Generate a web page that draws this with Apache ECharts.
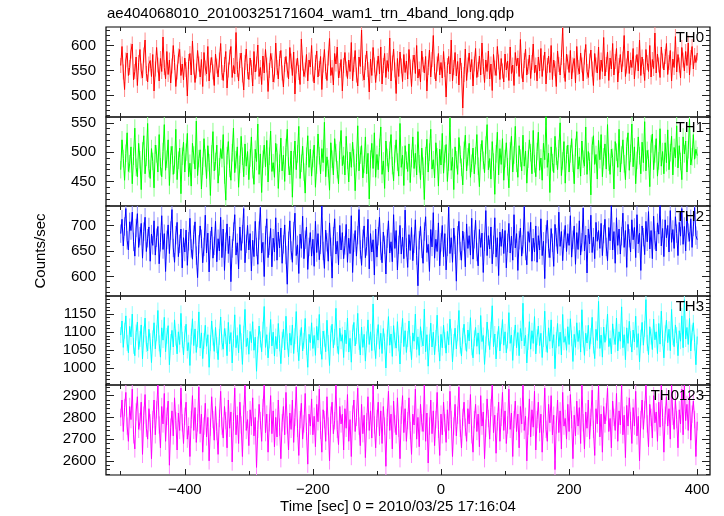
<!DOCTYPE html>
<html><head><meta charset="utf-8">
<script src="https://cdn.jsdelivr.net/npm/echarts@6/dist/echarts.min.js"></script>
<style>html,body{margin:0;padding:0;background:#fff}#c{width:724px;height:516px}</style>
</head><body><div id="c"></div>
<script>
// time grid of the light curve (sec, 0 = 2010/03/25 17:16:04)
const T_START = -500, T_STEP = 2;

const th0 = [
560,598,547,512,571,585,540,556,589,603,531,548,577,520,566,592,549,535,581,611,544,527,563,570,538,
582,509,553,596,561,529,574,548,617,556,533,588,542,571,525,559,600,566,518,547,579,592,540,563,531,
575,552,499,568,584,541,609,557,526,549,590,563,537,572,518,586,555,543,598,529,561,576,547,520,583,
559,537,571,604,546,530,562,588,515,551,577,598,536,560,543,626,552,529,570,585,541,511,566,593,548,
532,575,556,519,588,547,563,601,538,556,522,579,545,592,561,508,550,584,570,527,541,605,556,533,574,
590,545,517,562,578,551,533,596,569,540,587,503,559,575,546,522,613,565,538,551,582,529,571,557,600,
543,525,566,589,537,554,578,512,561,592,548,530,575,614,540,556,521,584,563,597,535,550,572,509,560,
586,553,534,571,548,606,529,562,590,541,519,577,558,631,544,531,566,589,552,507,573,540,596,561,526,
555,579,543,597,523,560,584,536,570,548,615,529,565,593,551,504,574,538,587,559,528,582,546,569,533,
592,557,518,566,581,544,600,535,553,527,589,562,545,578,509,556,591,537,572,620,548,529,563,584,541,
566,535,588,552,497,560,578,543,611,529,556,586,539,568,521,575,550,475,542,593,530,561,585,547,572,
519,563,594,536,552,579,541,605,558,526,571,548,589,533,563,510,582,555,540,598,567,532,574,549,527,
583,551,569,530,597,544,561,520,586,559,575,538,612,549,527,570,593,541,558,581,534,566,603,545,561,
529,577,549,594,538,565,587,523,560,579,546,600,532,571,554,518,589,562,541,576,635,550,528,583,567,
546,590,533,561,574,525,598,556,543,585,561,529,577,602,548,536,569,591,553,520,584,561,545,597,532,
571,548,616,539,562,587,530,575,553,604,541,568,594,527,560,582,547,573,620,538,559,589,544,571,556,
594,533,565,582,549,611,540,577,558,530,592,566,548,600,537,572,554,625,545,583,561,536,597,569,551,
578,604,542,566,590,529,573,556,618,547,582,561,535,596,571,549,588,560,605,541,576,598,553,580,566,
585];

const th1 = [
470,521,489,452,498,533,467,480,509,446,493,541,474,458,515,487,436,502,528,463,491,549,472,455,506,
484,439,512,497,466,530,475,458,501,547,469,488,521,443,495,510,462,478,539,453,486,507,429,493,517,
466,500,532,458,481,442,515,495,471,553,460,489,504,437,476,523,490,455,511,482,426,497,535,468,484,
512,447,475,506,489,530,461,418,494,518,472,452,499,541,465,487,509,440,479,527,493,458,514,476,501,
453,490,526,470,445,505,484,548,462,497,431,488,512,475,520,449,493,536,467,482,457,515,499,438,481,
524,468,495,450,508,539,476,461,502,423,487,519,470,497,544,455,481,510,466,430,493,528,474,505,459,
489,512,440,478,531,494,463,506,482,551,458,492,472,435,516,488,461,523,499,470,446,503,537,477,494,
461,527,486,449,500,474,517,490,434,482,545,468,495,511,456,479,526,463,498,420,488,515,472,533,457,
496,470,508,543,462,485,438,519,491,466,503,530,477,451,497,521,483,459,549,474,495,443,511,486,467,
514,448,489,526,472,498,461,535,480,453,507,476,419,494,522,466,500,539,471,487,456,516,492,442,505,
478,532,464,497,513,450,483,558,469,491,436,509,487,462,525,496,474,444,503,529,468,492,515,457,481,
507,463,494,530,476,441,499,520,486,465,512,547,470,489,454,518,483,428,497,534,461,506,479,523,452,
489,516,475,439,502,527,466,495,544,481,457,511,490,468,529,476,502,447,488,521,499,463,537,480,458,
501,534,469,490,452,515,487,561,474,498,431,509,482,465,527,493,470,506,550,460,485,518,447,496,512,
466,497,523,481,446,508,535,471,492,459,519,488,476,543,462,501,484,427,511,528,479,496,454,520,487,
530,458,492,514,471,547,483,462,505,491,437,518,500,474,539,466,495,521,480,453,510,533,469,498,548,
475,509,446,486,526,494,463,517,482,552,468,503,489,441,514,531,470,497,523,459,485,540,476,501,463,
516,482,538,470,499,527,461,508,490,545,473,511,484,453,526,497,519,466,504,556,478,492,530,488,505,
494];

const th2 = [
684,712,660,698,733,671,652,707,690,726,668,640,695,723,657,679,704,636,688,716,649,675,697,630,683,
661,709,642,676,698,625,667,719,653,684,610,672,701,645,690,731,656,628,681,706,639,664,693,617,676,
648,691,622,669,714,655,634,682,707,641,598,663,699,674,627,658,720,646,685,609,671,697,636,660,708,
629,674,650,716,637,693,612,668,703,645,679,590,655,688,721,642,666,615,697,651,683,733,627,664,700,
652,684,611,671,639,708,658,624,690,735,646,667,600,681,713,637,660,694,619,675,648,715,632,687,656,
695,626,663,701,642,585,670,709,651,628,689,724,641,662,606,683,655,718,635,672,697,614,658,686,640,
673,620,708,647,684,633,662,738,650,616,691,667,630,705,658,597,679,713,644,669,623,700,652,686,635,
661,702,628,675,645,719,608,666,690,640,681,731,653,622,674,699,637,659,712,615,684,648,672,603,693,
638,679,716,650,627,687,662,605,674,709,646,668,629,721,655,690,613,662,700,644,677,635,730,657,618,
682,651,696,631,664,711,641,582,671,698,654,626,688,717,647,663,610,692,658,725,636,673,649,705,621,
667,700,639,684,613,658,736,645,676,628,695,662,591,681,708,650,632,689,669,619,703,655,680,642,714,
634,673,710,648,621,692,657,685,608,668,729,641,680,654,697,625,662,715,638,676,602,687,659,693,645,
690,617,666,704,646,679,632,721,656,684,612,671,695,640,663,737,650,623,688,667,706,630,675,648,699,
628,680,652,713,641,669,596,683,710,655,637,694,666,620,702,677,645,726,659,688,631,674,700,649,684,
661,719,638,672,699,624,686,653,709,642,667,734,650,681,607,693,664,720,647,677,635,706,669,690,655,
704,641,683,712,658,631,696,670,739,652,688,626,715,661,693,644,679,724,657,690,618,702,675,648,711,
672,696,637,721,664,685,612,699,677,643,708,668,727,654,690,635,718,671,650,705,683,741,660,694,639,
711,676,700,648,729,667,692,655,717,684,641,706,679,733,663,698,650,722,686,669,713,657,697,735,680,
672];

const th3 = [
1092,1131,1058,1104,1145,1070,1043,1116,1087,1150,1062,1035,1099,1128,1052,1081,1120,1026,1094,1139,1067,1048,1108,1075,1016,
1083,1126,1054,1097,1160,1069,1031,1112,1078,1141,1046,1090,1118,1010,1073,1105,1059,1134,1085,1040,1101,1066,1152,1079,1037,
1095,1122,1049,1071,1008,1088,1137,1063,1109,1044,1081,1156,1056,1098,1027,1076,1119,1061,1093,1003,1070,1131,1085,1047,1113,
1064,1024,1087,1142,1072,1053,1110,1089,1035,1127,1068,1099,1015,1082,1148,1057,1091,1043,1121,1075,1011,1096,1163,1060,1084,
1039,1102,1071,1129,1050,1086,992,1066,1117,1080,1046,1107,1171,1058,1093,1029,1077,1135,1062,1100,1034,1088,1054,1124,1069,
1013,1079,1108,1051,1144,1074,1032,1097,1064,1120,1041,1089,1157,1067,1021,1085,1113,1048,1076,1138,1059,1003,1094,1071,1126,
1055,1091,1036,1116,1078,1149,1061,1025,1103,1082,1046,1133,1070,1008,1096,1122,1057,1087,1166,1063,1039,1111,1075,1093,1030,
1106,1068,1139,1045,1083,1017,1099,1127,1062,1089,1152,1073,1037,1114,1058,1094,1020,1080,1134,1066,1101,1049,1178,1072,1027,
1088,1121,1053,1097,1041,1110,1074,1001,1085,1143,1064,1095,1033,1118,1077,1056,1129,1069,1012,1092,1138,1060,1104,1044,1081,
1131,1067,1024,1098,1075,1150,1052,1087,1036,1115,1081,1062,1164,1046,1093,1006,1072,1125,1059,1100,1038,1084,1147,1068,1020,
1094,1057,1119,1078,1042,1102,1065,1136,1088,1018,1073,1111,1054,1097,1160,1063,1034,1090,1122,1071,1047,1106,1076,1140,1058,
1029,1083,1113,1061,1098,1039,1146,1074,1091,1011,1066,1128,1085,1052,1107,1173,1060,1095,1026,1080,1116,1048,1089,1135,1064,
1101,1043,1077,1154,1069,1092,1022,1084,1120,1057,1099,1035,1110,1076,1180,1062,1091,1015,1073,1129,1053,1104,1069,1143,1040,
1086,1117,1063,1097,1030,1081,1158,1067,1044,1112,1075,1134,1056,1093,999,1078,1124,1061,1100,1037,1149,1072,1088,1050,1115,
1066,1137,1083,1019,1094,1058,1126,1074,1105,1045,1162,1080,1036,1097,1070,1119,1053,1089,1141,1063,1027,1108,1077,1185,1055,
1092,1031,1114,1072,1099,1150,1060,1083,1040,1123,1087,1066,1139,1048,1101,1075,1170,1057,1093,1024,1112,1069,1130,1081,1045,
1106,1073,1144,1058,1096,1018,1085,1127,1064,1109,1190,1070,1038,1115,1088,1052,1136,1079,1101,1041,1124,1067,1158,1083,1029,
1097,1133,1071,1108,1049,1163,1086,1060,1120,1092,1035,1104,1075,1145,1057,1190,1081,1113,1066,1138,1048,1099,1126,1071,1010,
1088];

const th0123 = [
2800,2880,2735,2845,2915,2760,2690,2850,2790,2930,2720,2655,2825,2895,2745,2780,2870,2630,2810,2905,2750,2700,2840,2775,2610,
2790,2880,2720,2835,2948,2765,2660,2850,2770,2910,2690,2805,2875,2580,2755,2830,2715,2890,2785,2650,2820,2740,2935,2775,2680,
2805,2870,2700,2760,2620,2790,2900,2740,2845,2685,2775,2940,2725,2815,2640,2760,2865,2710,2800,2600,2755,2895,2790,2695,2850,
2735,2630,2795,2920,2760,2705,2850,2785,2660,2880,2750,2825,2595,2780,2935,2720,2810,2680,2870,2765,2620,2815,2948,2740,2790,
2670,2835,2760,2890,2715,2800,2570,2745,2860,2785,2690,2845,2948,2730,2815,2640,2775,2900,2725,2830,2665,2800,2710,2880,2755,
2610,2775,2850,2720,2915,2765,2650,2820,2745,2880,2685,2800,2940,2750,2625,2790,2865,2700,2770,2910,2735,2585,2815,2760,2885,
2720,2805,2665,2860,2780,2930,2740,2640,2835,2790,2690,2895,2760,2600,2810,2870,2725,2785,2948,2745,2675,2850,2770,2815,2650,
2840,2750,2905,2690,2790,2620,2815,2880,2735,2800,2935,2760,2670,2860,2725,2810,2615,2780,2895,2740,2830,2705,2948,2765,2660,
2795,2870,2715,2830,2680,2850,2760,2575,2800,2920,2740,2815,2655,2875,2770,2720,2890,2750,2610,2810,2900,2730,2840,2690,2785,
2890,2740,2630,2815,2765,2930,2700,2800,2665,2860,2775,2735,2948,2690,2820,2590,2760,2880,2725,2830,2670,2790,2915,2745,2625,
2815,2720,2870,2775,2685,2835,2740,2920,2790,2620,2760,2860,2715,2810,2940,2750,2660,2800,2870,2755,2690,2840,2770,2905,2720,
2640,2790,2860,2735,2815,2665,2900,2760,2825,2610,2750,2885,2795,2700,2845,2948,2730,2810,2635,2780,2870,2690,2800,2915,2740,
2830,2680,2765,2930,2745,2820,2620,2790,2875,2735,2815,2660,2850,2770,2948,2740,2805,2600,2760,2885,2710,2835,2755,2920,2650,
2790,2870,2730,2815,2640,2770,2935,2745,2690,2860,2775,2900,2720,2810,2560,2765,2880,2730,2830,2655,2915,2760,2795,2700,2860,
2735,2905,2790,2610,2810,2715,2875,2760,2845,2680,2948,2775,2655,2825,2750,2880,2700,2800,2925,2745,2625,2840,2770,2948,2710,
2815,2640,2850,2770,2825,2935,2735,2795,2660,2875,2800,2740,2910,2690,2830,2765,2948,2720,2810,2615,2855,2760,2890,2785,2680,
2845,2760,2920,2715,2805,2600,2790,2880,2745,2835,2948,2770,2665,2860,2800,2705,2900,2775,2825,2690,2870,2755,2948,2800,2640,
2810,2895,2760,2840,2700,2948,2805,2745,2880,2790,2660,2835,2770,2930,2720,2948,2785,2860,2740,2910,2695,2815,2875,2790,2620,
2780];

// 1-sigma error of each bin, per band (counts/sec)
const errBar = [15, 15, 18, 22, 40];

const panelNames = ['TH0','TH1','TH2','TH3','TH0123'];
const panelSeries = [th0, th1, th2, th3, th0123];
const yMajorTicks = [[500,550,600],[450,500,550],[600,650,700],[1000,1050,1100,1150],[2600,2700,2800,2900]];
const xMajorTicks = [-400,-200,0,200,400];
const xMinorTicks = [-500,-300,-100,100,300];
const titleText = 'ae404068010_20100325171604_wam1_trn_4band_long.qdp';
const xName = 'Time [sec] 0 = 2010/03/25 17:16:04';
const yName = 'Counts/sec';

// layout / style
const yRanges = [[457,637],[408,560],[562,738],[954,1200],[2535,2949]];
const yMinorStep = [10,10,10,10,20];
const lineColors = ['#ff0000','#00ff00','#0000ff','#00ffff','#ff00ff'];
const barColors = ['#ff8a8a','#8aff8a','#8a8aff','#8affff','#ff8aff'];
const tops = [27,117,206,296,385];
const heights = [90,89,90,89,90];
const FONT = "'Liberation Sans', Arial, Helvetica, sans-serif";
const X_MIN = -523, X_MAX = 420;

function minorList(lo, hi, step) {
  const out = [];
  for (let v = Math.ceil(lo / step) * step; v <= hi; v += step) out.push(v);
  return out;
}

const grids = [], xAxes = [], yAxes = [], series = [], graphics = [];
const tickColor = '#222';

for (let p = 0; p < 5; p++) {
  grids.push({left: 106, right: 14, top: tops[p], height: heights[p],
    show: true, borderColor: '#000', borderWidth: 1.2, backgroundColor: 'transparent'});
  const xBase = xAxes.length;
  const mkX = (pos, vals, len, labels) => ({
    gridIndex: p, type: 'value', position: pos, min: X_MIN, max: X_MAX,
    axisLine: {show: false, onZero: false}, splitLine: {show: false},
    axisTick: {show: true, inside: true, length: len, customValues: vals, lineStyle: {color: tickColor, width: 1}},
    axisLabel: labels ? {show: true, customValues: xMajorTicks, margin: 7, fontSize: 15, fontFamily: FONT, color: '#000',
      formatter: v => (v < 0 ? '\u2212' + Math.abs(v) : String(v))} : {show: false}
  });
  xAxes.push(mkX('bottom', xMajorTicks, 6, p === 4));
  xAxes.push(mkX('bottom', xMinorTicks, 4, false));
  xAxes.push(mkX('top', xMajorTicks, 6, false));
  xAxes.push(mkX('top', xMinorTicks, 4, false));

  const yBase = yAxes.length;
  const [lo, hi] = yRanges[p];
  const minors = minorList(lo, hi, yMinorStep[p]);
  const mkY = (pos, vals, len, labels) => ({
    gridIndex: p, type: 'value', position: pos, min: lo, max: hi,
    axisLine: {show: false, onZero: false}, splitLine: {show: false},
    axisTick: {show: true, inside: true, length: len, customValues: vals, lineStyle: {color: tickColor, width: 1}},
    axisLabel: labels ? {show: true, customValues: yMajorTicks[p], margin: 10, fontSize: 15, fontFamily: FONT, color: '#000',
      formatter: v => String(v)} : {show: false}
  });
  yAxes.push(mkY('left', yMajorTicks[p], 8, true));
  yAxes.push(mkY('left', minors, 4, false));
  yAxes.push(mkY('right', yMajorTicks[p], 8, false));
  yAxes.push(mkY('right', minors, 4, false));

  const pts = panelSeries[p].map((v, i) => [T_START + i * T_STEP, v]);
  const err = errBar[p], bc = barColors[p];
  series.push({type: 'custom', xAxisIndex: xBase, yAxisIndex: yBase, data: pts, clip: true, silent: true, z: 2,
    renderItem: (params, api) => {
      const x = api.value(0), y = api.value(1);
      const a = api.coord([x, y - err]), b = api.coord([x, y + err]);
      return {type: 'line', shape: {x1: a[0], y1: a[1], x2: b[0], y2: b[1]}, style: {stroke: bc, lineWidth: 1}};
    }});
  series.push({type: 'line', xAxisIndex: xBase, yAxisIndex: yBase, data: pts, showSymbol: false, symbol: 'none',
    clip: true, silent: true, lineStyle: {color: lineColors[p], width: 1}, z: 3});

  graphics.push({type: 'text', right: 20, top: tops[p] + 3, z: 10,
    style: {text: panelNames[p], fontSize: 15, fontFamily: FONT, fill: '#000'}});
}

graphics.push({type: 'text', left: 107, top: 6, style: {text: titleText, fontSize: 15, fontFamily: FONT, fill: '#000'}});
graphics.push({type: 'text', x: 398, y: 507, style: {text: xName, fontSize: 15, fontFamily: FONT, fill: '#000', align: 'center', verticalAlign: 'middle'}});
graphics.push({type: 'text', x: 41, y: 251, rotation: Math.PI / 2, style: {text: yName, fontSize: 15, fontFamily: FONT, fill: '#000', align: 'center', verticalAlign: 'middle'}});

const chart = echarts.init(document.getElementById('c'), null, {renderer: 'canvas'});
chart.setOption({animation: false, backgroundColor: '#fff', grid: grids, xAxis: xAxes, yAxis: yAxes, series: series, graphic: graphics});
</script>
</body></html>
